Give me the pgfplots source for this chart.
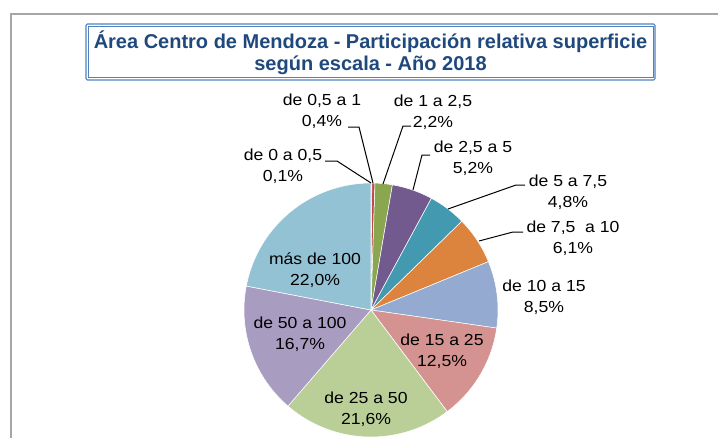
\documentclass[border=0pt]{standalone}
\usepackage{pgfplots}
\pgfplotsset{compat=1.18}
\usepackage{fontspec}
\setmainfont{Liberation Sans}
\newfontfamily\lblfont[FakeStretch=1.1]{Liberation Sans}
\newfontfamily\ttlfont{Liberation Sans}
\definecolor{cA}{HTML}{4A7EBB}
\definecolor{cB}{HTML}{BE4B48}
\definecolor{cC}{HTML}{8AA64F}
\definecolor{cD}{HTML}{735A8E}
\definecolor{cE}{HTML}{4399B0}
\definecolor{cF}{HTML}{DC843E}
\definecolor{cG}{HTML}{94AAD0}
\definecolor{cH}{HTML}{D49290}
\definecolor{cI}{HTML}{BACF97}
\definecolor{cJ}{HTML}{A99CC1}
\definecolor{cK}{HTML}{93C2D5}
\definecolor{ttl}{HTML}{1F497D}
\definecolor{boxc}{HTML}{4F81BD}
\definecolor{frm}{HTML}{A6A6A6}
% running cumulative share (percent); total of the rounded shares = 100.1
\xdef\cum{0}
\newcommand{\slice}[2]{%
  \pgfmathsetmacro\aS{450-\cum/100.1*360}%
  \pgfmathsetmacro\newcum{\cum+#1}%
  \xdef\cum{\newcum}%
  \pgfmathsetmacro\aE{450-\cum/100.1*360}%
  \pgfmathsetmacro\ns{int(max(2,ceil((\aS-\aE)/1.5)+1))}%
  \edef\tmp{\noexpand\addplot[fill=#2,draw=white,line width=0.4pt,domain=\aE:\aS,samples=\ns,variable=\noexpand\t]
    ({127*cos(\noexpand\t)},{127*sin(\noexpand\t)}) -- (axis cs:0,0) -- cycle;}%
  \tmp}
\begin{document}
\begin{tikzpicture}
\begin{axis}[width=538.5pt, height=327.75pt, scale only axis, hide axis,
  xmin=-371, xmax=347, ymin=-127, ymax=310, clip=false]
% shares in percent, clockwise from 12 o'clock
\slice{0.1}{cA}  % de 0 a 0,5
\slice{0.4}{cB}  % de 0,5 a 1
\slice{2.2}{cC}  % de 1 a 2,5
\slice{5.2}{cD}  % de 2,5 a 5
\slice{4.8}{cE}  % de 5 a 7,5
\slice{6.1}{cF}  % de 7,5 a 10
\slice{8.5}{cG}  % de 10 a 15
\slice{12.5}{cH} % de 15 a 25
\slice{21.6}{cI} % de 25 a 50
\slice{16.7}{cJ} % de 50 a 100
\slice{22.0}{cK} % mas de 100
% frame
\draw[frm, line width=1.1pt] (axis cs:-360,-130) -- (axis cs:-360,296) -- (axis cs:350,296);
% title box
\draw[boxc, line width=0.8pt, rounded corners=1pt] (axis cs:-285,230) rectangle (axis cs:284,286);
\draw[boxc, line width=0.6pt] (axis cs:-282.3,232.7) rectangle (axis cs:282,283.3);
\node[ttl, align=center, font=\ttlfont\bfseries\fontsize{15}{16.7}\selectfont] at (axis cs:-0.5,257)
  {Área Centro de Mendoza - Participación relativa superficie\\según escala - Año 2018};
% leader lines
\draw[black, line width=0.75pt] (axis cs:-23,183) -- (axis cs:-12,183) -- (axis cs:2,127);
\draw[black, line width=0.75pt] (axis cs:-46,149) -- (axis cs:-34,149) -- (axis cs:0,127);
\draw[black, line width=0.75pt] (axis cs:40,184) -- (axis cs:32,184) -- (axis cs:12,126);
\draw[black, line width=0.75pt] (axis cs:59,155) -- (axis cs:51,155) -- (axis cs:42,120);
\draw[black, line width=0.75pt] (axis cs:154,125) -- (axis cs:145,125) -- (axis cs:77,101);
\draw[black, line width=0.75pt] (axis cs:152,78) -- (axis cs:142,78) -- (axis cs:108,69);
% labels
\tikzset{lbl/.style={align=center, inner sep=0pt, font=\lblfont\fontsize{12}{15.75}\selectfont}}
\node[lbl] at (axis cs:-49,199) {de 0,5 a 1\\0,4\%};
\node[lbl] at (axis cs:-88,144) {de 0 a 0,5\\0,1\%};
\node[lbl] at (axis cs:62,198) {de 1 a 2,5\\2,2\%};
\node[lbl] at (axis cs:102,152) {de 2,5 a 5\\5,2\%};
\node[lbl] at (axis cs:197,118) {de 5 a 7,5\\4,8\%};
\node[lbl] at (axis cs:202,72) {de 7,5\ \ a 10\\6,1\%};
\node[lbl] at (axis cs:173,13) {de 10 a 15\\8,5\%};
\node[lbl] at (axis cs:-56,40) {más de 100\\22,0\%};
\node[lbl] at (axis cs:-71,-24) {de 50 a 100\\16,7\%};
\node[lbl] at (axis cs:71,-41) {de 15 a 25\\12,5\%};
\node[lbl] at (axis cs:-5,-99) {de 25 a 50\\21,6\%};
\end{axis}
\pgfresetboundingbox
\path (current axis.south west) rectangle (current axis.north east);
\end{tikzpicture}
\end{document}
